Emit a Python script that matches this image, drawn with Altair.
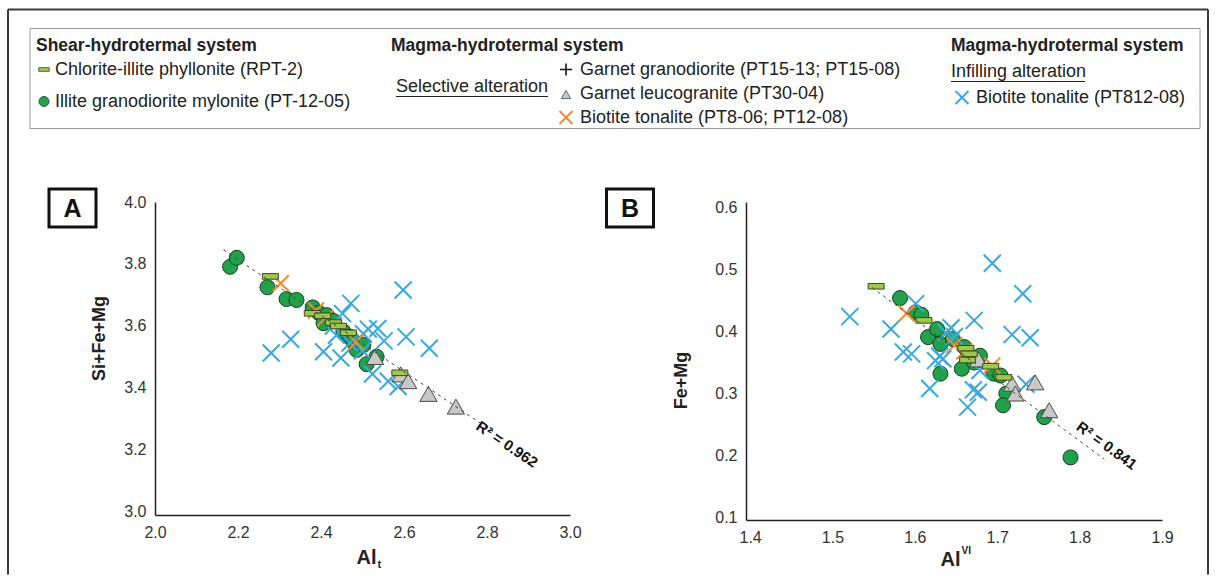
import altair as alt
import pandas as pd

FONT = "Liberation Sans"

# ---------------- Panel A data (Al_t vs Si+Fe+Mg) ----------------
A_chl_x = [2.278, 2.379, 2.404, 2.430, 2.442, 2.466, 2.590]
A_chl_y = [3.760, 3.641, 3.633, 3.611, 3.600, 3.578, 3.449]
A_ill_x = [2.181, 2.197, 2.271, 2.317, 2.341, 2.380, 2.395, 2.414, 2.406, 2.430,
           2.454, 2.470, 2.478, 2.486, 2.502, 2.534, 2.510]
A_ill_y = [3.791, 3.820, 3.725, 3.687, 3.684, 3.660, 3.642, 3.635, 3.609, 3.616,
           3.582, 3.565, 3.549, 3.523, 3.539, 3.501, 3.477]
A_leu_x = [2.530, 2.592, 2.610, 2.659, 2.725]
A_leu_y = [3.500, 3.444, 3.422, 3.381, 3.340]
A_bts_x = [2.303, 2.388, 2.410, 2.484]
A_bts_y = [3.738, 3.650, 3.625, 3.548]
A_bti_x = [2.280, 2.327, 2.406, 2.448, 2.472, 2.452, 2.437, 2.470, 2.502, 2.514,
           2.537, 2.552, 2.524, 2.562, 2.586, 2.598, 2.605, 2.661, 2.430, 2.500]
A_bti_y = [3.513, 3.557, 3.517, 3.497, 3.673, 3.640, 3.570, 3.545, 3.575, 3.590,
           3.592, 3.552, 3.445, 3.422, 3.405, 3.716, 3.565, 3.528, 3.600, 3.520]
A_fit_x = [2.165, 2.840]
A_fit_y = [3.846, 3.236]
A_r2 = "R² = 0.962"
A_r2_x = [2.848]
A_r2_y = [3.218]

# ---------------- Panel B data (Al_VI vs Fe+Mg) ----------------
B_chl_x = [1.553, 1.611, 1.662, 1.666, 1.664, 1.692, 1.708]
B_chl_y = [0.473, 0.418, 0.373, 0.364, 0.354, 0.344, 0.326]
B_ill_x = [1.582, 1.601, 1.608, 1.616, 1.627, 1.631, 1.646, 1.631, 1.657, 1.660,
           1.679, 1.672, 1.696, 1.704, 1.711, 1.707, 1.757, 1.789]
B_ill_y = [0.454, 0.431, 0.427, 0.391, 0.404, 0.380, 0.388, 0.332, 0.340, 0.375,
           0.361, 0.350, 0.332, 0.329, 0.300, 0.281, 0.262, 0.197]
B_leu_x = [1.677, 1.718, 1.722, 1.746, 1.763]
B_leu_y = [0.355, 0.316, 0.300, 0.318, 0.273]
B_bts_x = [1.590, 1.648, 1.694, 1.660]
B_bts_y = [0.429, 0.378, 0.345, 0.368]
B_bti_x = [1.521, 1.571, 1.586, 1.596, 1.601, 1.618, 1.625, 1.634, 1.638, 1.644,
           1.648, 1.672, 1.664, 1.671, 1.677, 1.679, 1.694, 1.718, 1.731, 1.740,
           1.735, 1.630]
B_bti_y = [0.424, 0.404, 0.367, 0.364, 0.445, 0.308, 0.353, 0.356, 0.398, 0.406,
           0.392, 0.418, 0.278, 0.306, 0.302, 0.337, 0.510, 0.395, 0.461, 0.390,
           0.315, 0.360]
B_fit_x = [1.548, 1.830]
B_fit_y = [0.471, 0.194]
B_r2 = "R² = 0.841"
B_r2_x = [1.833]
B_r2_y = [0.216]

# axis ticks
A_xticks = [2.0, 2.2, 2.4, 2.6, 2.8, 3.0]
A_yticks = [3.0, 3.2, 3.4, 3.6, 3.8, 4.0]
B_xticks = [1.4, 1.5, 1.6, 1.7, 1.8, 1.9]
B_yticks = [0.1, 0.2, 0.3, 0.4, 0.5, 0.6]

# legend texts
LEG_H1 = "Shear-hydrotermal system"
LEG_H2 = "Magma-hydrotermal system"
LEG_CHL = "Chlorite-illite phyllonite (RPT-2)"
LEG_ILL = "Illite granodiorite mylonite (PT-12-05)"
LEG_SEL = "Selective alteration"
LEG_GRD = "Garnet granodiorite (PT15-13; PT15-08)"
LEG_LEU = "Garnet leucogranite (PT30-04)"
LEG_BTS = "Biotite tonalite (PT8-06; PT12-08)"
LEG_INF = "Infilling alteration"
LEG_BTI = "Biotite tonalite (PT812-08)"

# ---------------- styles ----------------
BAR_PATH = "M-1,-0.35H1V0.35H-1Z"
X_PATH = "M-1,-1L1,1M-1,1L1,-1"
PLUS_PATH = "M-1,0H1M0,-1V1"
C_GREEN, C_GREEN_S = "#21a14a", "#15401f"
C_BAR, C_BAR_S = "#9dc84b", "#3b4a1c"
C_TRI, C_TRI_S = "#c8c8c8", "#4a4a4a"
C_ORANGE = "#f08a35"
C_BLUE = "#38a9de"
LEG_FS = 18
HEAD_FS = 17.5

one = pd.DataFrame({"k": [0]})

# plot-area origins (page pixels)
OXA, OYA = 155, 201.5
OXB, OYB = 746.5, 201.5


def txt(s, x, y, ox, oy, size=LEG_FS, weight="normal", align="left",
        baseline="middle", color="#222", angle=0):
    kw = dict(text=s, align=align, baseline=baseline, font=FONT,
              fontSize=size, fontWeight=weight, color=color)
    if angle:
        kw["angle"] = angle
    return alt.Chart(one).mark_text(**kw).encode(
        x=alt.value(x - ox), y=alt.value(y - oy))


def rule(x1, y1, x2, y2, ox, oy, color, width):
    return alt.Chart(one).mark_rule(color=color, strokeWidth=width).encode(
        x=alt.value(x1 - ox), x2=alt.value(x2 - ox),
        y=alt.value(y1 - oy), y2=alt.value(y2 - oy))


def box(x1, y1, x2, y2, ox, oy, color, width):
    return alt.Chart(one).mark_rect(fillOpacity=0, stroke=color,
                                    strokeWidth=width).encode(
        x=alt.value(x1 - ox), x2=alt.value(x2 - ox),
        y=alt.value(y1 - oy), y2=alt.value(y2 - oy))


def icon(x, y, ox, oy, **mk):
    return alt.Chart(one).mark_point(opacity=1, **mk).encode(
        x=alt.value(x - ox), y=alt.value(y - oy))


def axis(vals):
    return alt.Axis(values=vals, format=".1f", title="", ticks=False, tickSize=0,
                    grid=False, domainColor="#222", domainWidth=1.5,
                    labelFont=FONT, labelFontSize=16, labelColor="#333",
                    labelPadding=9, labelFlush=False, labelOverlap=False)


MARKS = {
    "ill": dict(shape="circle", size=225, filled=True, fill=C_GREEN,
                stroke=C_GREEN_S, strokeWidth=1),
    "bti": dict(shape=X_PATH, size=289, filled=False, stroke=C_BLUE, strokeWidth=2),
    "bts": dict(shape=X_PATH, size=256, filled=False, stroke=C_ORANGE, strokeWidth=2),
    "leu": dict(shape="triangle-up", size=300, filled=True, fill=C_TRI,
                stroke=C_TRI_S, strokeWidth=1),
    "chl": dict(shape=BAR_PATH, size=256, filled=True, fill=C_BAR,
                stroke=C_BAR_S, strokeWidth=1),
}


def panel(series, fit, r2, r2xy, r2angle, xdom, ydom, xt, yt):
    X = alt.X("x:Q", scale=alt.Scale(domain=xdom, nice=False, zero=False), axis=axis(xt))
    Y = alt.Y("y:Q", scale=alt.Scale(domain=ydom, nice=False, zero=False), axis=axis(yt))
    layers = []
    for key in ["ill", "bti", "bts", "leu", "chl"]:
        xs, ys = series[key]
        df = pd.DataFrame({"x": xs, "y": ys})
        layers.append(alt.Chart(df).mark_point(opacity=1, **MARKS[key]).encode(x=X, y=Y))
    fdf = pd.DataFrame({"x": fit[0], "y": fit[1]})
    layers.append(alt.Chart(fdf).mark_line(color="#444", strokeWidth=1,
                                           strokeDash=[3, 4]).encode(x=X, y=Y))
    rdf = pd.DataFrame({"x": r2xy[0], "y": r2xy[1], "t": [r2]})
    layers.append(alt.Chart(rdf).mark_text(font=FONT, fontSize=15, fontWeight="bold",
                                           color="#111", angle=r2angle, align="center",
                                           baseline="middle").encode(x=X, y=Y, text="t:N"))
    return layers


# ---------------- Panel A ----------------
A_layers = panel(
    {"ill": (A_ill_x, A_ill_y), "bti": (A_bti_x, A_bti_y), "bts": (A_bts_x, A_bts_y),
     "leu": (A_leu_x, A_leu_y), "chl": (A_chl_x, A_chl_y)},
    (A_fit_x, A_fit_y), A_r2, (A_r2_x, A_r2_y), 34,
    [2.0, 3.0], [2.99032, 4.0], A_xticks, A_yticks)

o = (OXA, OYA)
deco_A = [
    # outer frame
    rule(8, 9, 1208, 9, *o, "#3a3a3a", 2),
    rule(8, 9, 8, 574, *o, "#3a3a3a", 2),
    rule(1208, 9, 1208, 574, *o, "#3a3a3a", 2),
    # legend box
    box(30, 28, 1200, 128, *o, "#9a9a9a", 1),
    # legend column 1
    txt(LEG_H1, 36, 45, *o, size=HEAD_FS, weight="bold"),
    icon(44, 69, *o, shape=BAR_PATH, size=110, filled=True, fill=C_BAR,
         stroke=C_BAR_S, strokeWidth=0.8),
    txt(LEG_CHL, 55, 69, *o),
    icon(44, 101, *o, shape="circle", size=100, filled=True, fill=C_GREEN,
         stroke=C_GREEN_S, strokeWidth=0.8),
    txt(LEG_ILL, 55, 101, *o),
    # legend column 2
    txt(LEG_H2, 391, 45, *o, size=HEAD_FS, weight="bold"),
    txt(LEG_SEL, 396, 86, *o),
    rule(396, 96, 548, 96, *o, "#222", 1),
    icon(566, 69, *o, shape=PLUS_PATH, size=144, filled=False, stroke="#111",
         strokeWidth=1.6),
    txt(LEG_GRD, 580, 69, *o),
    icon(566, 94, *o, shape="triangle-up", size=90, filled=True, fill=C_TRI,
         stroke=C_TRI_S, strokeWidth=0.8),
    txt(LEG_LEU, 580, 93, *o),
    icon(566, 117, *o, shape=X_PATH, size=169, filled=False, stroke=C_ORANGE,
         strokeWidth=2),
    txt(LEG_BTS, 580, 117, *o),
    # legend column 3
    txt(LEG_H2, 951, 45, *o, size=HEAD_FS, weight="bold"),
    txt(LEG_INF, 951, 71, *o),
    rule(951, 81, 1085, 81, *o, "#222", 1),
    icon(962, 97, *o, shape=X_PATH, size=169, filled=False, stroke=C_BLUE,
         strokeWidth=2),
    txt(LEG_BTI, 976, 97, *o),
    # panel label A
    box(49, 188.5, 96, 226.5, *o, "#111", 3),
    txt("A", 72.5, 208, *o, size=25, weight="bold", align="center", color="#111"),
    # axis titles
    txt("Si+Fe+Mg", 100, 338, *o, size=18, weight="bold", align="center",
        color="#222", angle=270),
    txt("Al", 366.5, 563, *o, size=20, weight="bold", align="center",
        baseline="alphabetic", color="#222"),
    txt("t", 377.5, 567, *o, size=11, weight="bold", baseline="alphabetic",
        color="#222"),
]
chartA = alt.layer(*(A_layers + deco_A)).properties(width=415, height=313)

# ---------------- Panel B ----------------
B_layers = panel(
    {"ill": (B_ill_x, B_ill_y), "bti": (B_bti_x, B_bti_y), "bts": (B_bts_x, B_bts_y),
     "leu": (B_leu_x, B_leu_y), "chl": (B_chl_x, B_chl_y)},
    (B_fit_x, B_fit_y), B_r2, (B_r2_x, B_r2_y), 36,
    [1.395, 1.9], [0.0960, 0.6089], B_xticks, B_yticks)

o = (OXB, OYB)
deco_B = [
    box(607, 188.5, 654, 226.5, *o, "#111", 3),
    txt("B", 630.5, 208, *o, size=25, weight="bold", align="center", color="#111"),
    txt("Fe+Mg", 682, 380, *o, size=18, weight="bold", align="center",
        color="#222", angle=270),
    txt("Al", 951, 565, *o, size=20, weight="bold", align="center",
        baseline="alphabetic", color="#222"),
    txt("VI", 962, 553, *o, size=10, weight="bold", baseline="alphabetic",
        color="#222"),
]
chartB = alt.layer(*(B_layers + deco_B)).properties(width=416, height=318)

chart = alt.hconcat(chartA, chartB, spacing=176, bounds="flush").properties(
    padding={"left": 7, "top": 8, "right": 0, "bottom": 0}
).configure(font=FONT).configure_view(strokeWidth=0)

chart.save("out.html", embed_options={"renderer": "svg", "actions": False})
